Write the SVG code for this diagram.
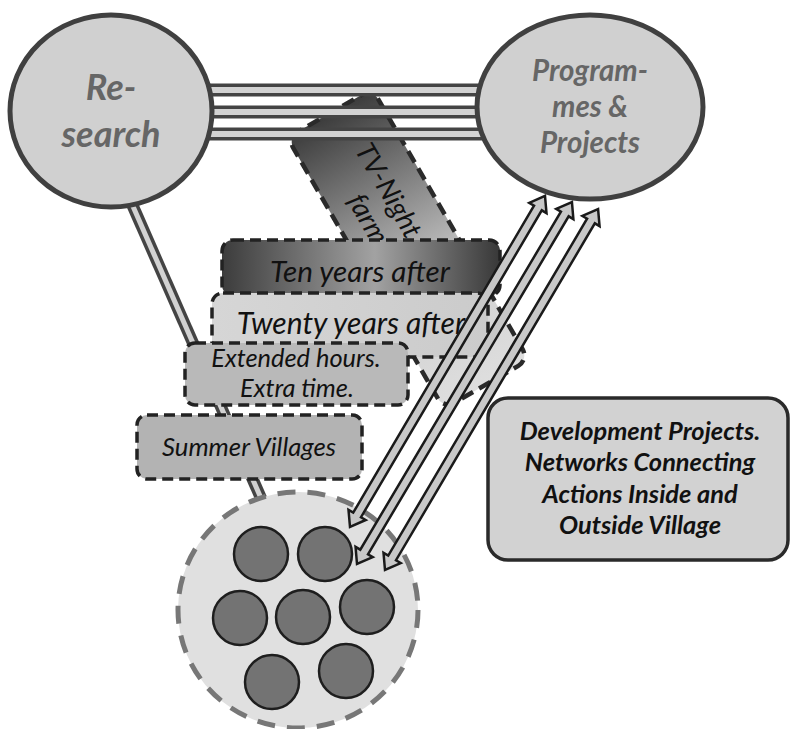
<svg xmlns="http://www.w3.org/2000/svg" width="792" height="729" viewBox="0 0 792 729">
<defs>
<style>
.hub{fill:#d0d0d0;stroke:#404040;stroke-width:5}
.hubtxt{font-family:Lato,"Liberation Sans",sans-serif;font-weight:bold;font-style:italic;fill:#666;text-anchor:middle}
.dbox{stroke:#222;stroke-width:3.5;stroke-dasharray:11 6}
.itxt{font-family:Lato,"Liberation Sans",sans-serif;font-style:italic;fill:#111;text-anchor:middle}
.btxt{font-family:Lato,"Liberation Sans",sans-serif;font-weight:bold;font-style:italic;fill:#111;text-anchor:middle;font-size:25.4px}
.bandO{stroke:#444;stroke-width:13;fill:none}
.bandI{stroke:#d2d2d2;stroke-width:6;fill:none}
.arrow{fill:#c8c8c8;stroke:#1a1a1a;stroke-width:2.5;stroke-linejoin:miter}
.vil{fill:#737373;stroke:#1e1e1e;stroke-width:2.5}
</style>
<linearGradient id="gTV" gradientUnits="userSpaceOnUse" x1="0" y1="0" x2="313" y2="0">
<stop offset="0" stop-color="#3c3c3c"/>
<stop offset="0.35" stop-color="#8c8c8c"/>
<stop offset="0.65" stop-color="#d0d0d0"/>
<stop offset="1" stop-color="#dedede"/>
</linearGradient>
<linearGradient id="gTen" x1="0" y1="0" x2="1" y2="0">
<stop offset="0" stop-color="#3c3c3c"/>
<stop offset="0.55" stop-color="#a2a2a2"/>
<stop offset="1" stop-color="#383838"/>
</linearGradient>
<linearGradient id="gTw" x1="0" y1="0" x2="1" y2="0">
<stop offset="0" stop-color="#d6d6d6"/>
<stop offset="1" stop-color="#cbcbcb"/>
</linearGradient>
</defs>

<g id="tv-night">
<g transform="translate(372.2,88.8) rotate(60)">
<rect x="0" y="0" width="313" height="98" rx="12" fill="url(#gTV)" stroke="#2a2a2a" stroke-width="4.5" stroke-dasharray="13 7"/>
<text x="44" y="46" font-family="Lato,'Liberation Sans',sans-serif" font-style="italic" font-size="27.5" fill="#111">TV-Night o</text>
<text x="84" y="78" font-family="Lato,'Liberation Sans',sans-serif" font-style="italic" font-size="27.5" fill="#111">farm</text>
</g>
</g>

<g id="connectors">
<line class="bandO" x1="200" y1="90" x2="490" y2="90"/>
<line class="bandI" x1="200" y1="90" x2="490" y2="90"/>
<line class="bandO" x1="200" y1="112" x2="490" y2="112"/>
<line class="bandI" x1="200" y1="112" x2="490" y2="112"/>
<line class="bandO" x1="200" y1="134" x2="490" y2="134"/>
<line class="bandI" x1="200" y1="134" x2="490" y2="134"/>
<line x1="128" y1="195" x2="264" y2="505" stroke="#444" stroke-width="12"/>
<line x1="128" y1="195" x2="264" y2="505" stroke="#d2d2d2" stroke-width="5"/>
</g>

<g id="research">
<ellipse class="hub" cx="111" cy="111" rx="101" ry="96"/>
<text class="hubtxt" x="111" y="100" font-size="36">Re-</text>
<text class="hubtxt" x="111" y="147" font-size="36">search</text>
</g>

<g id="programmes">
<ellipse class="hub" cx="590" cy="107" rx="113" ry="92"/>
<text class="hubtxt" x="590" y="81" font-size="29.5">Program-</text>
<text class="hubtxt" x="590" y="117" font-size="29.5">mes &amp;</text>
<text class="hubtxt" x="590" y="153" font-size="29.5">Projects</text>
</g>

<g id="ten-years">
<rect class="dbox" x="222" y="240" width="278" height="56" rx="11" fill="url(#gTen)" stroke-dasharray="13 6"/>
<text class="itxt" x="360" y="282" font-size="29.7">Ten years after</text>
</g>

<g id="twenty-years">
<rect class="dbox" x="212" y="293" width="276" height="64" rx="11" fill="url(#gTw)" stroke-dasharray="13 6"/>
<text class="itxt" x="351" y="334" font-size="30">Twenty years after</text>
</g>

<g id="extended-hours">
<rect class="dbox" x="185" y="343" width="223" height="62" rx="10" fill="#b9b9b9"/>
<text class="itxt" x="296" y="367" font-size="25.4">Extended hours.</text>
<text class="itxt" x="297" y="397" font-size="25.4">Extra time.</text>
</g>

<g id="summer-villages">
<rect class="dbox" x="137" y="415" width="225" height="64" rx="10" fill="#b3b3b3"/>
<text class="itxt" x="249" y="456" font-size="25.7">Summer Villages</text>
</g>

<g id="village">
<ellipse cx="298" cy="610" rx="120" ry="118" fill="#e0e0e0" stroke="#777" stroke-width="5" stroke-dasharray="18 12"/>
<circle class="vil" cx="261" cy="554" r="27"/>
<circle class="vil" cx="325" cy="554" r="27"/>
<circle class="vil" cx="367" cy="607" r="27"/>
<circle class="vil" cx="240" cy="618" r="27"/>
<circle class="vil" cx="303" cy="617" r="27"/>
<circle class="vil" cx="272" cy="682" r="27"/>
<circle class="vil" cx="346" cy="671" r="27"/>
</g>

<g id="arrows">
<polygon class="arrow" transform="translate(350,527) rotate(-59.5)" points="0,0 14,-10 14,-4.5 370.2,-4.5 370.2,-10 384.2,0 370.2,10 370.2,4.5 14,4.5 14,10"/>
<polygon class="arrow" transform="translate(357,564) rotate(-59.3)" points="0,0 14,-10 14,-4.5 407,-4.5 407,-10 421,0 407,10 407,4.5 14,4.5 14,10"/>
<polygon class="arrow" transform="translate(385,570) rotate(-59.45)" points="0,0 14,-10 14,-4.5 405.2,-4.5 405.2,-10 419.2,0 405.2,10 405.2,4.5 14,4.5 14,10"/>
</g>

<g id="development-projects">
<rect x="488" y="398" width="300" height="162" rx="20" fill="#d2d2d2" stroke="#2a2a2a" stroke-width="3.5"/>
<text class="btxt" x="640" y="440">Development Projects.</text>
<text class="btxt" x="640" y="471">Networks Connecting</text>
<text class="btxt" x="640" y="503">Actions Inside and</text>
<text class="btxt" x="640" y="534">Outside Village</text>
</g>
</svg>
